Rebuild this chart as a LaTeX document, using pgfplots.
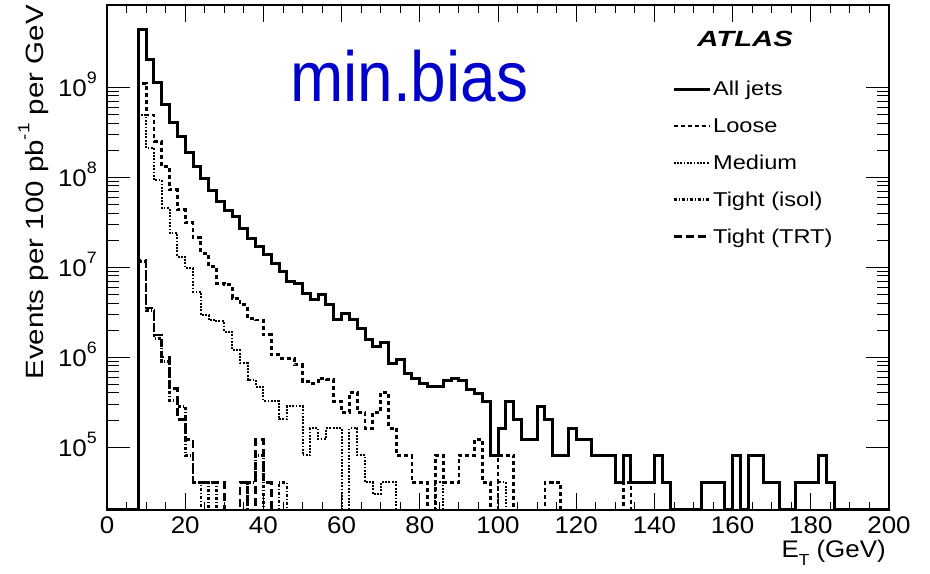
\documentclass[border=0pt]{standalone}
\usepackage{pgfplots}
\pgfplotsset{compat=1.18}
\usepackage{fontspec}
\setmainfont{Liberation Sans}
\newfontfamily\plotfont[FakeStretch=1.18]{Liberation Sans}
\newfontfamily\tickfont[FakeStretch=1.08]{Liberation Sans}
\newfontfamily\atlasfont[FakeStretch=1.33]{Liberation Sans}
\newfontfamily\mbfont[FakeStretch=0.9]{Liberation Sans}
\definecolor{minblue}{RGB}{0,0,204}
\newcommand{\tenp}[1]{10\raisebox{0.56em}{\fontsize{16.5}{16.5}\selectfont #1}}
\begin{document}
\begin{tikzpicture}
\begin{axis}[
  name=ax,
  scale only axis, width=782pt, height=505pt,
  ymode=log, xmin=0, xmax=200, ymin=2e4, ymax=8.2e9,
  axis line style={line width=1.2pt},
  tick align=inside, tick pos=both,
  tick style={line width=0.9pt, black},
  major tick length=17pt, minor tick length=8pt,
  every major y tick/.append style={/pgfplots/major tick length=23pt},
  every minor y tick/.append style={/pgfplots/minor tick length=12pt},
  xtick={0,20,...,200}, minor x tick num=3,
  ytick={1e5,1e6,1e7,1e8,1e9},
  yticklabels={\tenp{5},\tenp{6},\tenp{7},\tenp{8},\tenp{9}},
  /pgf/number format/assume math mode=true,
  xticklabel style={font=\tickfont\fontsize{24}{24}\selectfont, anchor=north, inner sep=0pt, yshift=-7pt},
  yticklabel style={font=\tickfont\fontsize{24}{24}\selectfont, anchor=base east, inner sep=0pt, xshift=-10pt, yshift=-9.5pt},
  every axis y label/.style={at={(rel axis cs:-0.0818,1)}, rotate=90, anchor=base east, font=\plotfont\fontsize{25}{25}\selectfont, inner sep=0pt},
  every axis x label/.style={at={(rel axis cs:0.996,-0.095)}, anchor=base east, font=\tickfont\fontsize{24}{24}\selectfont, inner sep=0pt},
  ylabel={Events per 100 pb\raisebox{0.55em}{\fontsize{16}{16}\selectfont -1} per GeV},
  xlabel={E\raisebox{-0.3em}{\fontsize{16}{16}\selectfont T} (GeV)},
  legend style={draw=none, fill=none, at={(rel axis cs:0.7225,0.853)}, anchor=north west,
    font=\plotfont\fontsize{20}{20}\selectfont, row sep=17pt, inner sep=0pt,
    /tikz/every even column/.append style={column sep=7pt}},
  legend cell align=left,
  legend image code/.code={\draw[#1] (0pt,0pt) -- (36pt,0pt);},
]
% All jets
\addplot[const plot mark left, black, line width=3pt] table[row sep=\\] {
x y \\
0 2e4 \\ 8 4.34e9 \\ 10 2.05e9 \\ 12 1.12e9 \\ 14 6.47e8 \\ 16 4.06e8 \\ 18 2.83e8 \\
20 1.88e8 \\ 22 1.33e8 \\ 24 9.57e7 \\ 26 7.04e7 \\ 28 5.38e7 \\ 30 4.27e7 \\ 32 3.62e7 \\
34 2.70e7 \\ 36 2.10e7 \\ 38 1.68e7 \\ 40 1.37e7 \\ 42 1.11e7 \\ 44 8.94e6 \\ 46 6.92e6 \\
48 6.64e6 \\ 50 5.14e6 \\ 52 4.33e6 \\ 54 4.92e6 \\ 56 3.81e6 \\ 58 2.59e6 \\ 60 3.03e6 \\
62 2.64e6 \\ 64 2.10e6 \\ 66 1.58e6 \\ 68 1.31e6 \\ 70 1.45e6 \\ 72 8.57e5 \\ 74 9.5e5 \\
76 6.64e5 \\ 78 5.84e5 \\ 80 5.14e5 \\ 82 4.71e5 \\ 84 4.71e5 \\ 86 5.5e5 \\ 88 5.84e5 \\
90 5.5e5 \\ 92 4.34e5 \\ 94 3.91e5 \\ 96 3.24e5 \\ 98 8.1e4 \\ 100 1.62e5 \\ 102 3.24e5 \\
104 2.03e5 \\ 106 1.22e5 \\ 108 1.22e5 \\ 110 2.84e5 \\ 112 2.03e5 \\ 114 8.1e4 \\ 116 8.1e4 \\
118 1.62e5 \\ 120 1.22e5 \\ 122 1.22e5 \\ 124 8.1e4 \\ 126 8.1e4 \\ 128 8.1e4 \\ 130 4.05e4 \\
132 8.1e4 \\ 134 4.05e4 \\ 136 4.05e4 \\ 138 4.05e4 \\ 140 8.1e4 \\ 142 4.05e4 \\ 144 2e4 \\
152 4.05e4 \\ 154 4.05e4 \\ 156 4.05e4 \\ 158 2e4 \\ 160 8.1e4 \\ 162 2e4 \\ 164 8.1e4 \\
166 8.1e4 \\ 168 4.05e4 \\ 170 4.05e4 \\ 172 2e4 \\ 176 4.05e4 \\ 178 4.05e4 \\ 180 4.05e4 \\
182 8.1e4 \\ 184 4.05e4 \\ 186 2e4 \\ 200 2e4 \\
};
\addlegendentry{All jets}
% Loose
\addplot[const plot mark left, black, line width=2.8pt, dash pattern=on 4pt off 3pt] table[row sep=\\] {
x y \\
0 2e4 \\ 8 1.11e9 \\ 10 4.9e8 \\ 12 2.49e8 \\ 14 1.31e8 \\ 16 7.23e7 \\ 18 4.34e7 \\
20 3.11e7 \\ 22 2.12e7 \\ 24 1.43e7 \\ 26 1.02e7 \\ 28 6.64e6 \\ 30 6.36e6 \\ 32 4.53e6 \\
34 3.81e6 \\ 36 2.71e6 \\ 38 2.59e6 \\ 40 1.77e6 \\ 42 1.06e6 \\ 44 9.75e5 \\ 46 9.75e5 \\
48 8.2e5 \\ 50 5.36e5 \\ 52 5.14e5 \\ 54 5.84e5 \\ 56 5.6e5 \\ 58 3.24e5 \\ 60 2.43e5 \\
62 4.05e5 \\ 64 2.43e5 \\ 66 1.62e5 \\ 68 2.43e5 \\ 70 4.05e5 \\ 72 1.62e5 \\ 74 8.1e4 \\
76 8.1e4 \\ 78 4.05e4 \\ 80 4.05e4 \\ 82 2e4 \\ 84 8.1e4 \\ 86 4.05e4 \\ 88 4.05e4 \\
90 8.1e4 \\ 92 8.1e4 \\ 94 1.22e5 \\ 96 4.05e4 \\ 98 2e4 \\ 100 8.1e4 \\ 102 8.1e4 \\
104 2e4 \\ 112 4.05e4 \\ 114 4.05e4 \\ 116 2e4 \\ 132 4.05e4 \\ 134 2e4 \\ 200 2e4 \\
};
\addlegendentry{Loose}
% Medium
\addplot[const plot mark left, black, line width=2pt, dash pattern=on 1.8pt off 1.5pt] table[row sep=\\] {
x y \\
0 2e4 \\ 8 4.9e8 \\ 10 2.1e8 \\ 12 9.3e7 \\ 14 4.53e7 \\ 16 2.39e7 \\ 18 1.31e7 \\
20 9.75e6 \\ 22 5.36e6 \\ 24 2.95e6 \\ 26 2.59e6 \\ 28 2.49e6 \\ 30 1.92e6 \\ 32 1.2e6 \\
34 8.57e5 \\ 36 5.6e5 \\ 38 4.71e5 \\ 40 3.24e5 \\ 42 3.24e5 \\ 44 2.03e5 \\ 46 2.84e5 \\
48 2.84e5 \\ 50 8.1e4 \\ 52 1.62e5 \\ 54 1.22e5 \\ 56 1.62e5 \\ 58 1.62e5 \\ 60 2e4 \\
62 1.62e5 \\ 64 8.1e4 \\ 66 4.05e4 \\ 68 3e4 \\ 70 4.05e4 \\ 72 4.05e4 \\ 74 2e4 \\
84 4.05e4 \\ 86 2e4 \\ 100 4.05e4 \\ 102 2e4 \\ 200 2e4 \\
};
\addlegendentry{Medium}
% Tight (isol)
\addplot[const plot mark left, black, line width=2.6pt, dash pattern=on 3pt off 2pt on 1pt off 2pt] table[row sep=\\] {
x y \\
0 2e4 \\ 8 1.15e7 \\ 10 3.3e6 \\ 12 1.6e6 \\ 14 9e5 \\ 16 3.3e5 \\ 18 2.84e5 \\
20 8.1e4 \\ 22 4.05e4 \\ 24 2e4 \\ 26 4.05e4 \\ 28 2e4 \\ 36 4.05e4 \\ 38 8.1e4 \\
40 2e4 \\ 44 4.05e4 \\ 46 2e4 \\ 200 2e4 \\
};
\addlegendentry{Tight (isol)}
% Tight (TRT)
\addplot[const plot mark left, black, line width=2.6pt, dash pattern=on 8pt off 4pt] table[row sep=\\] {
x y \\
0 2e4 \\ 8 1.2e7 \\ 10 3.5e6 \\ 12 1.77e6 \\ 14 1.0e6 \\ 16 4.5e5 \\ 18 2.03e5 \\
20 1.22e5 \\ 22 4.05e4 \\ 30 2e4 \\ 34 4.05e4 \\ 36 2e4 \\ 38 1.22e5 \\ 40 4.05e4 \\
42 2e4 \\ 200 2e4 \\
};
\addlegendentry{Tight (TRT)}
\node[anchor=base west, text=minblue, font=\mbfont\fontsize{71}{71}\selectfont, inner sep=0pt] at (rel axis cs:0.234,0.8085) {min.bias};
\node[anchor=center, font=\atlasfont\fontsize{22}{22}\selectfont\bfseries\itshape, inner sep=0pt] at (rel axis cs:0.816,0.933) {ATLAS};
\end{axis}
\pgfresetboundingbox
\path[use as bounding box] ([shift={(-107pt,-63pt)}]ax.south west) rectangle ([shift={(41pt,5pt)}]ax.north east);
\end{tikzpicture}
\end{document}
